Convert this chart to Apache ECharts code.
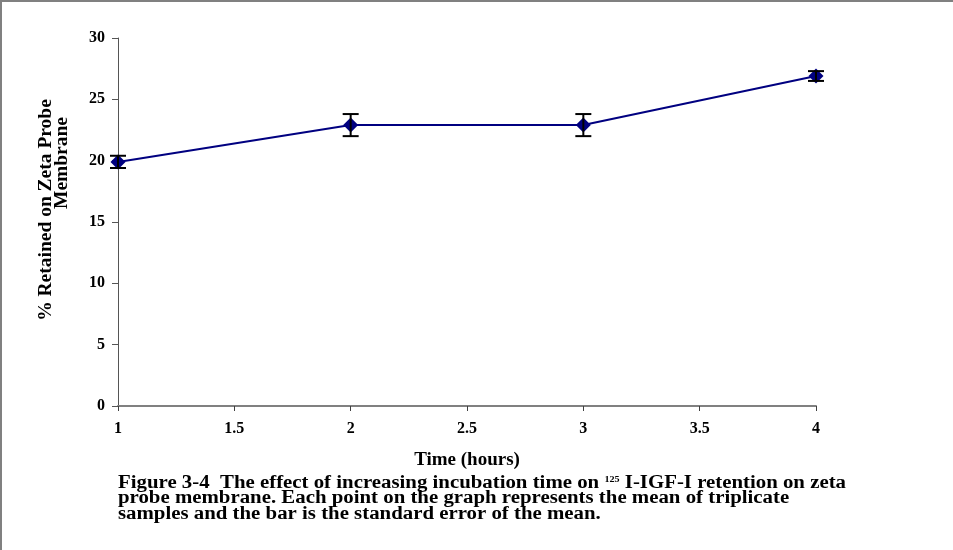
<!DOCTYPE html>
<html>
<head>
<meta charset="utf-8">
<script src="https://cdn.jsdelivr.net/npm/echarts@6/dist/echarts.min.js"></script>
<style>
  html, body { margin: 0; padding: 0; background: #fff; }
  #chart { width: 953px; height: 550px; }
</style>
</head>
<body>
<div id="chart"></div>
<script>
// Incubation time (hours) and % of 125I-IGF-I retained on the membrane
const hours = [1, 2, 3, 4];
const retained = [19.9, 22.9, 22.9, 26.9];
const sem = [0.5, 0.9, 0.9, 0.4];
const yTicks = [0, 5, 10, 15, 20, 25, 30];
const xTicks = [1, 1.5, 2, 2.5, 3, 3.5, 4];
const yTitleLines = ['% Retained on Zeta Probe', 'Membrane'];

const serif = '"Liberation Serif", "Times New Roman", serif';
const captionLines = [
  'Figure 3-4  The effect of increasing incubation time on ',
  'probe membrane. Each point on the graph represents the mean of triplicate',
  'samples and the bar is the standard error of the mean.'
];

const chart = echarts.init(document.getElementById('chart'), null, { renderer: 'canvas' });

const points = hours.map((h, i) => [h, retained[i]]);
const bars = hours.map((h, i) => [h, retained[i] - sem[i], retained[i] + sem[i]]);

const titleStyle = { fontFamily: serif, fontWeight: 'bold', fontSize: 19.5, fill: '#000',
  align: 'center', verticalAlign: 'middle' };

chart.setOption({
  animation: false,
  backgroundColor: '#fff',
  grid: { left: 118, right: 137, top: 38, bottom: 144 },
  xAxis: {
    type: 'value', min: 1, max: 4, interval: 0.5,
    name: 'Time (hours)', nameLocation: 'middle', nameGap: 45,
    nameTextStyle: { fontFamily: serif, fontWeight: 'bold', fontSize: 19, color: '#000' },
    axisLine: { lineStyle: { color: '#808080', width: 2 } },
    axisTick: { length: 5, lineStyle: { color: '#404040', width: 1 } },
    axisLabel: { margin: 15, fontFamily: serif, fontWeight: 'bold', fontSize: 16, color: '#000',
      formatter: v => xTicks.includes(v) ? String(v) : '' },
    splitLine: { show: false }
  },
  yAxis: {
    type: 'value', min: 0, max: 30, interval: 5,
    axisLine: { show: true, lineStyle: { color: '#555', width: 1 } },
    axisTick: { show: true, length: 6, lineStyle: { color: '#555', width: 1 } },
    axisLabel: { margin: 13, fontFamily: serif, fontWeight: 'bold', fontSize: 16, color: '#000',
      formatter: v => yTicks.includes(v) ? String(v) : '' },
    splitLine: { show: false }
  },
  series: [
    {
      type: 'line',
      data: points,
      symbol: 'diamond',
      symbolSize: 15,
      lineStyle: { color: '#000080', width: 2 },
      itemStyle: { color: '#000080' },
      z: 3
    },
    {
      type: 'custom',
      data: bars,
      z: 4,
      renderItem: (params, api) => {
        const x = api.value(0);
        const lo = api.coord([x, api.value(1)]);
        const hi = api.coord([x, api.value(2)]);
        const cap = 8;
        const style = { stroke: '#000', lineWidth: 2 };
        return {
          type: 'group',
          children: [
            { type: 'line', shape: { x1: lo[0], y1: lo[1], x2: hi[0], y2: hi[1] }, style },
            { type: 'line', shape: { x1: lo[0] - cap, y1: lo[1], x2: lo[0] + cap, y2: lo[1] }, style },
            { type: 'line', shape: { x1: hi[0] - cap, y1: hi[1], x2: hi[0] + cap, y2: hi[1] }, style }
          ]
        };
      }
    }
  ],
  graphic: [
    // frame edges
    { type: 'rect', shape: { x: 0, y: 0, width: 953, height: 2 }, style: { fill: '#808080' } },
    { type: 'rect', shape: { x: 0, y: 0, width: 2, height: 550 }, style: { fill: '#808080' } },
    // vertical axis title, two lines
    { type: 'text', x: 46, y: 210, rotation: Math.PI / 2, style: Object.assign({ text: yTitleLines[0] }, titleStyle) },
    { type: 'text', x: 62, y: 163, rotation: Math.PI / 2, style: Object.assign({ text: yTitleLines[1] }, titleStyle) },
    // figure caption
    {
      type: 'text', x: 118, y: 475, scaleX: 1.126,
      style: {
        text: '{c|' + captionLines[0] + '}{s|125}{c| I-IGF-I retention on zeta}\n{c|' +
              captionLines[1] + '}\n{c|' + captionLines[2] + '}',
        rich: {
          c: { fontFamily: serif, fontWeight: 'bold', fontSize: 18.5, fill: '#000', lineHeight: 15.7 },
          s: { fontFamily: serif, fontWeight: 'bold', fontSize: 9, fill: '#000', lineHeight: 15.7, verticalAlign: 'top', padding: [0, 0, 7, 0] }
        }
      }
    }
  ]
});
</script>
</body>
</html>
